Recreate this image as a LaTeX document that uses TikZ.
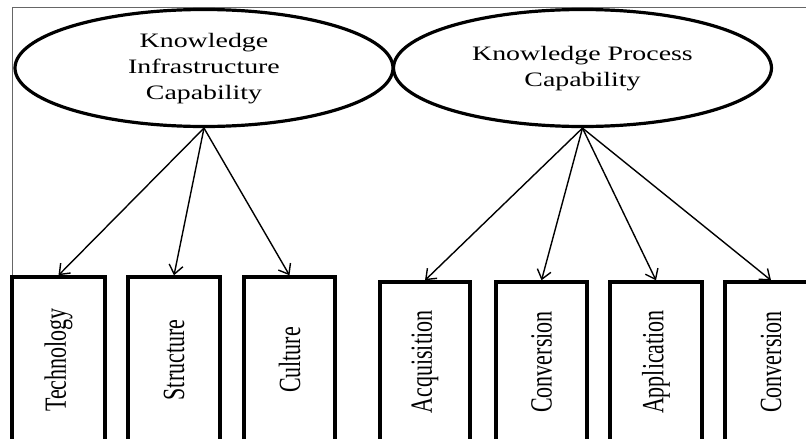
\documentclass[tikz,border=0pt]{standalone}
\usepackage{fontspec}
\setmainfont{Liberation Serif}
\usetikzlibrary{shapes.geometric,arrows.meta}
% text helpers: widened construct labels and upright-reading indicator labels
\newcommand\constructtext[1]{\scalebox{1.36}[1]{\fontsize{20.5}{26}\selectfont\begin{tabular}{@{}c@{}}#1\end{tabular}}}
\newcommand\indicatortext[1]{\scalebox{1.4}[1]{\rotatebox{90}{\fontsize{22}{25}\selectfont #1}}}
\begin{document}
\begin{tikzpicture}[x=1pt,y=-1pt,
  construct/.style={ellipse, draw, line width=3.2pt, minimum width=378pt, minimum height=117pt, inner sep=0pt},
  indicator/.style={rectangle, draw, line width=3.4pt, inner sep=0pt, minimum width=92pt},
  link/.style={line width=1.4pt, -{Straight Barb[length=9pt,width=14pt]}},
  frameline/.style={black!60, line width=1pt}]
\useasboundingbox (0,0) rectangle (806,439);
\clip (0,0) rectangle (806,439);

% outer frame
\draw[frameline] (806,7) -- (12,7) -- (12,277);

% constructs
\node[construct] (kic) at (204,68) {\constructtext{Knowledge\\Infrastructure\\Capability}};
\node[construct] (kpc) at (582.5,68) {\constructtext{Knowledge Process\\Capability}};

% infrastructure indicators
\node[indicator, minimum width=93pt, minimum height=166pt] (tech) at (58.5,360) {\indicatortext{Technology}};
\node[indicator, minimum height=166pt] (struct) at (174,360) {\indicatortext{Structure}};
\node[indicator, minimum width=91pt, minimum height=166pt] (cult) at (289.5,360) {\indicatortext{Culture}};

% process indicators
\node[indicator, minimum width=90pt, minimum height=160pt] (acq) at (425,362) {\indicatortext{Acquisition}};
\node[indicator, minimum width=91pt, minimum height=160pt] (conv) at (541.5,362) {\indicatortext{Conversion}};
\node[indicator, minimum height=160pt] (appl) at (656,362) {\indicatortext{Application}};
\node[indicator, minimum height=160pt] (convb) at (771,362) {\indicatortext{Conversion}};

% loadings
\draw[link] (kic.south) -- (tech.north);
\draw[link] (kic.south) -- (struct.north);
\draw[link] (kic.south) -- (cult.north);
\draw[link] (kpc.south) -- (acq.north);
\draw[link] (kpc.south) -- (conv.north);
\draw[link] (kpc.south) -- (appl.north);
\draw[link] (kpc.south) -- (convb.north);
\end{tikzpicture}
\end{document}
